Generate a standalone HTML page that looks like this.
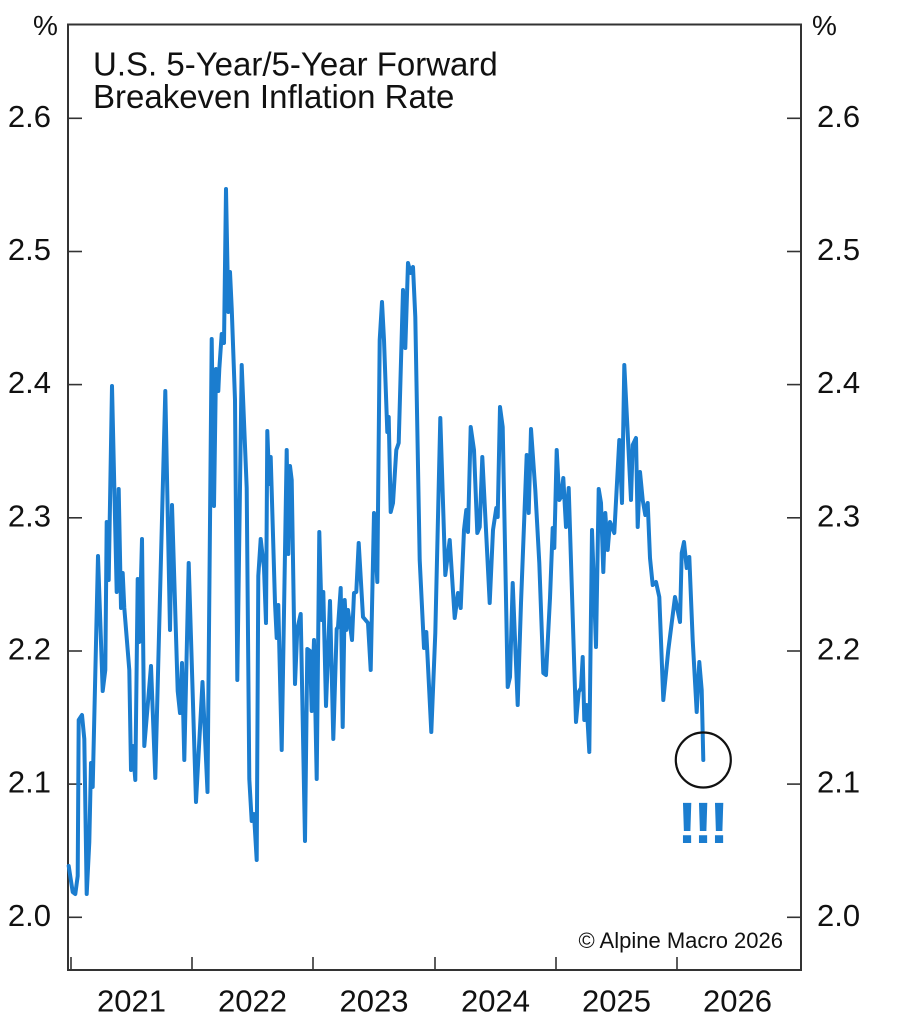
<!DOCTYPE html>
<html>
<head>
<meta charset="utf-8">
<style>
  html, body { margin: 0; padding: 0; background: #ffffff; }
  body { width: 922px; height: 1024px; overflow: hidden; }
  svg { display: block; }
  text { font-family: "Liberation Sans", Arial, Helvetica, sans-serif; fill: #111111; }
</style>
</head>
<body>
<svg width="922" height="1024" viewBox="0 0 922 1024" xmlns="http://www.w3.org/2000/svg">
  <rect x="0" y="0" width="922" height="1024" fill="#ffffff"/>

  <!-- frame -->
  <rect x="68" y="24.5" width="733" height="945.5" fill="none" stroke="#333333" stroke-width="2"/>

  <g stroke="#333333" stroke-width="1.6">
    <line x1="68" y1="118.3" x2="82" y2="118.3"/>
    <line x1="68" y1="251.5" x2="82" y2="251.5"/>
    <line x1="68" y1="384.6" x2="82" y2="384.6"/>
    <line x1="68" y1="517.8" x2="82" y2="517.8"/>
    <line x1="68" y1="651" x2="82" y2="651"/>
    <line x1="68" y1="784.1" x2="82" y2="784.1"/>
    <line x1="68" y1="917.3" x2="82" y2="917.3"/>
    <line x1="787" y1="118.3" x2="801" y2="118.3"/>
    <line x1="787" y1="251.5" x2="801" y2="251.5"/>
    <line x1="787" y1="384.6" x2="801" y2="384.6"/>
    <line x1="787" y1="517.8" x2="801" y2="517.8"/>
    <line x1="787" y1="651" x2="801" y2="651"/>
    <line x1="787" y1="784.1" x2="801" y2="784.1"/>
    <line x1="787" y1="917.3" x2="801" y2="917.3"/>
    <line x1="71" y1="957" x2="71" y2="970"/>
    <line x1="192" y1="957" x2="192" y2="970"/>
    <line x1="313" y1="957" x2="313" y2="970"/>
    <line x1="435" y1="957" x2="435" y2="970"/>
    <line x1="556" y1="957" x2="556" y2="970"/>
    <line x1="677" y1="957" x2="677" y2="970"/>
  </g>

  <text x="33" y="35" font-size="28">%</text>
  <text x="812" y="35" font-size="28">%</text>

  <g font-size="31" text-anchor="end">
    <text x="51" y="126.8">2.6</text>
    <text x="51" y="260">2.5</text>
    <text x="51" y="393.1">2.4</text>
    <text x="51" y="526.3">2.3</text>
    <text x="51" y="659.5">2.2</text>
    <text x="51" y="792.6">2.1</text>
    <text x="51" y="925.8">2.0</text>
  </g>
  <g font-size="31" text-anchor="start">
    <text x="817" y="126.8">2.6</text>
    <text x="817" y="260">2.5</text>
    <text x="817" y="393.1">2.4</text>
    <text x="817" y="526.3">2.3</text>
    <text x="817" y="659.5">2.2</text>
    <text x="817" y="792.6">2.1</text>
    <text x="817" y="925.8">2.0</text>
  </g>

  <g font-size="31" text-anchor="middle">
    <text x="131.5" y="1011.5">2021</text>
    <text x="252.5" y="1011.5">2022</text>
    <text x="374" y="1011.5">2023</text>
    <text x="495.5" y="1011.5">2024</text>
    <text x="616.5" y="1011.5">2025</text>
    <text x="737.5" y="1011.5">2026</text>
  </g>

  <text x="93" y="75.5" font-size="33">U.S. 5-Year/5-Year Forward</text>
  <text x="93" y="108" font-size="33">Breakeven Inflation Rate</text>

  <text x="783" y="948" font-size="22" text-anchor="end" fill="#222222">© Alpine Macro 2026</text>

  <polyline fill="none" stroke="#1b7dcf" stroke-width="4" stroke-linejoin="round" stroke-linecap="round"
    points="68.7,866 72.7,892 75.3,894 77.7,876 78.7,720 82,715 84.3,739 86.7,894 89.3,842 91,763 92.7,787 98,556 102.7,691 105.3,670 106.7,522 108.7,580 112,386 116.7,592 118.7,489 121,608 122.7,573 124.3,608 129.3,670 131,770 132.7,746 135.3,780 137.7,579 139.3,642 142,539 144.3,746 151,666 155.3,778 165.3,391 170,630 172,505 177.7,691 180,713 182,663 184.3,760 188.7,563 196,802 202.5,682 207.5,792
    211.7,339 214,506 216,369 218.3,391 219.3,369 221.7,334 224,343 226,189 228.3,312 230,272 231.7,308 235,400 237.3,680 241.7,365 246.7,488 249.3,779 251.7,821 254,814 256.7,860 258.3,576 260.7,539 264,568 266,623 267.3,431 269.3,484 270.7,457 275,603 276.7,638 278.3,605 281.7,750 286.7,450 288.3,554 290,466 291.7,480 295,684 297.3,629 300.7,614 305,841 307.3,649 310,651 311.7,711 314,640 316.7,779 319.3,532 321.7,620 323.3,592 326,706 330,601 333.3,739 336.7,629
    338,627 340.7,588 342.7,727 344.7,600 346.3,630 348,610 352,640 354,593 356.3,592 358.7,543 363,617 368,623 370.7,670 374,513 377.3,582 379.7,340 382,302 384,340 387.3,432 388.7,417 390.7,512 393,503 396.3,450 398.7,443 403,290 405.3,348 408,263 410.7,273 413,267 415.3,317 419.7,560 424,648 426.3,632 431.3,732 435.3,633 440.3,418 445.3,575 449.7,540 454.7,618 458,593 460.7,608 464,530 466.3,510 468,532 470.7,427 474,450 477.3,533 479.7,527 482.3,457 489.7,603 493,530 496.3,508 497.7,517
    500,407 502.7,427 507.7,687 510,677 512.7,583 517.7,705 521,603 526.7,455 528.7,513 531,429 535.3,490 539.3,563 543.3,673 546,675 550,598 552.7,528 554.3,548 556.7,450 559.3,500 561,497 563.3,478 566,527 568.7,488 576,722 578.7,692 581,688 582.7,657 584.3,720 586.7,705 589.3,752 592,530 596,647 598.7,489 601,503 603.3,572 605.3,513 607.7,550 610,522 614.3,533 619.3,440 622,503 624.3,365 627.7,433 631,500 632.7,445 636,438 637.7,527 640,472 642.7,500 645.3,515 647.7,503 650,558 652.7,585
    656,582 659.3,597 663.3,700 668.3,650 675,597 680,622 681.7,553 684,542 686.7,568 689.3,557 692.7,640 696.7,712 699.3,662 701.7,690 703.3,760"/>

  <circle cx="703.3" cy="760" r="27.5" fill="none" stroke="#111111" stroke-width="2.2"/>

  <text x="677.5" y="843" font-size="58" font-weight="bold" letter-spacing="-3.3" style="fill:#1b7dcf">!!!</text>
</svg>
</body>
</html>
